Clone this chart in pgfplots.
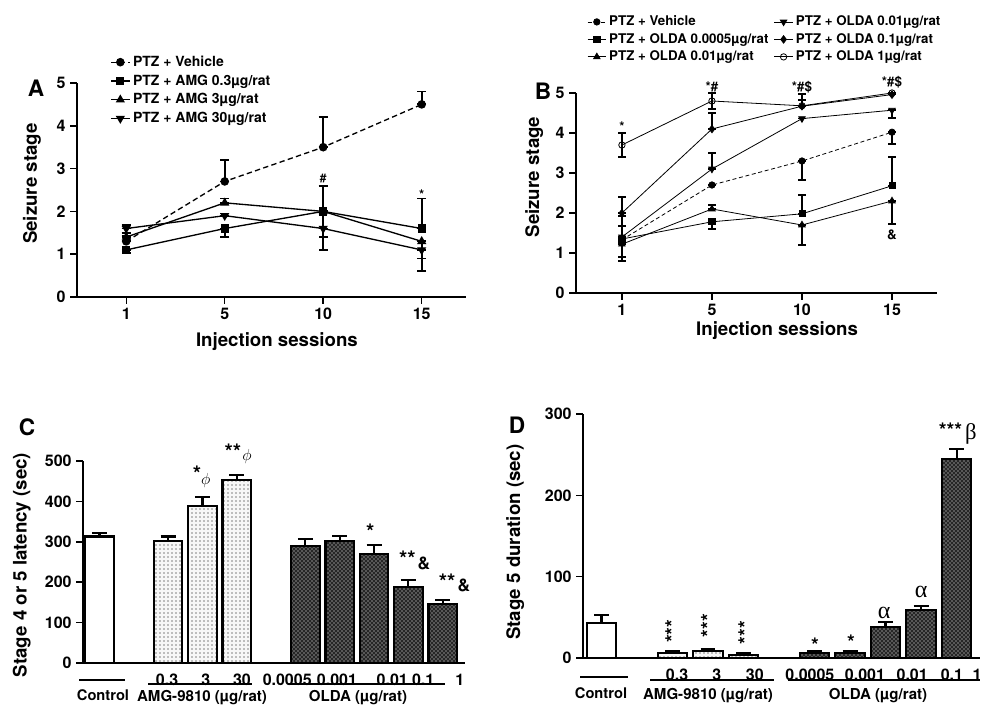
\documentclass[border=0pt]{standalone}
\usepackage{fontspec}
\setmainfont{TeX Gyre Heros}
\newfontfamily\grk{Liberation Serif}
\usepackage{pgfplots}
\pgfplotsset{compat=1.18}
\usetikzlibrary{patterns}

\newcommand{\fs}[1]{\fontsize{#1}{#1}\selectfont\bfseries}

\tikzset{stack/.style={font=\fs{15}, rotate=90, inner sep=0pt}}

\pgfplotsset{
  panel/.style={
    scale only axis, anchor=south west, clip=false,
    axis x line=bottom, axis y line=left,
    axis line style={-, line width=1.1pt, black},
    tick align=outside, tick style={line width=1.1pt, black},
    /pgf/number format/assume math mode=true,
    tick label style={font=\fs{12}},
    every axis y label/.style={rotate=90, anchor=center, font=\fs{14}},
    every axis x label/.style={anchor=center, font=\fs{14}},
  },
  errA/.style={error bars/y dir=both, error bars/y explicit,
    error bars/error bar style={line width=1.4pt, solid},
    error bars/error mark options={rotate=90, line width=1.4pt, mark size=3.4pt, solid}},
  errB/.style={error bars/y dir=both, error bars/y explicit,
    error bars/error bar style={line width=1.1pt, solid},
    error bars/error mark options={rotate=90, line width=1.1pt, mark size=2.9pt, solid}},
  barbase/.style={ybar, bar width=0.83, bar shift=0pt, draw=black, line width=1.6pt,
    error bars/y dir=plus, error bars/y explicit,
    error bars/error bar style={line width=1.6pt, solid},
    error bars/error mark options={rotate=90, line width=1.6pt, mark size=5.6pt}},
  amg/.style={fill=black!3, postaction={pattern=dots, pattern color=black}},
  olda/.style={fill=black!85, postaction={pattern=crosshatch dots, pattern color=white}},
}

\begin{document}
\begin{tikzpicture}
\path[use as bounding box] (0,0) rectangle (738pt,-528.75pt);
\begin{scope}[x=0.75pt,y=-0.75pt]
  \coordinate (Ao) at (77,297);
  \coordinate (Bo) at (576,293);
  \coordinate (Co) at (83,663);
  \coordinate (Do) at (583,658);
  \node[font=\fs{17}] at (36,88) {A};
  \node[font=\fs{17}] at (543,91) {B};
  \node[font=\fs{17}] at (27,427) {C};
  \node[font=\fs{17}] at (517,425) {D};
  % group rules and names, panel C
  \draw[line width=1.4pt] (79,680) -- (125,680);
  \draw[line width=1.4pt] (148,684) -- (252,684);
  \draw[line width=1.4pt] (288,684) -- (445,684);
  \node[font=\fs{11}, anchor=base] at (103,700) {Control};
  \node[font=\fs{11.3}, anchor=base] at (202,701) {AMG-9810 (µg/rat)};
  \node[font=\fs{11.3}, anchor=base] at (358,701) {OLDA (µg/rat)};
  % group rules and names, panel D
  \draw[line width=1.4pt] (580,677) -- (628,677);
  \draw[line width=1.4pt] (650,680) -- (774,680);
  \draw[line width=1.4pt] (788,680) -- (980,680);
  \node[font=\fs{11}, anchor=base] at (601,698) {Control};
  \node[font=\fs{11.3}, anchor=base] at (708,699) {AMG-9810 (µg/rat)};
  \node[font=\fs{11.3}, anchor=base] at (878,699) {OLDA (µg/rat)};
\end{scope}

% ---------------- A
\begin{axis}[panel, at={(Ao)}, width=291.75pt, height=160.5pt,
  xmin=-0.5, xmax=3.45, ymin=0, ymax=5,
  xtick={0,1,2,3}, xticklabels={1,5,10,15}, ytick={0,1,2,3,4,5},
  major tick length=5pt,
  xlabel={Injection sessions}, xlabel style={at={(axis description cs:0.514,-0.21)}},
  ylabel={Seizure stage}, ylabel style={at={(axis description cs:-0.116,0.53)}},
  legend style={at={(axis description cs:0.085,1.14)}, anchor=north west, draw=none, fill=none,
    font=\fs{10.5}, inner sep=0pt, row sep=0.8pt},
  legend cell align=left,
  legend image code/.code={\draw[mark repeat=2,mark phase=2,#1] plot coordinates {(0pt,0pt) (7pt,0pt) (14pt,0pt)};},
]
\addplot[black, line width=1pt, dash pattern=on 4pt off 2.5pt, mark=*, mark size=2.7pt, mark options={solid}, errA]
  coordinates {(0,1.3) += (0,0.12) -= (0,0) (1,2.7) += (0,0.5) -= (0,0) (2,3.5) += (0,0.7) -= (0,0) (3,4.5) += (0,0.3) -= (0,0)};
\addlegendentry{PTZ + Vehicle}
\addplot[black, line width=1pt, mark=square*, mark size=2.6pt, errA]
  coordinates {(0,1.1) += (0,0) -= (0,0.07) (1,1.6) += (0,0) -= (0,0.2) (2,2.0) += (0,0.6) -= (0,0) (3,1.6) += (0,0.7) -= (0,0)};
\addlegendentry{PTZ + AMG 0.3µg/rat}
\addplot[black, line width=1pt, mark=triangle*, mark size=3pt, errA]
  coordinates {(0,1.4) += (0,0.1) -= (0,0) (1,2.2) += (0,0.1) -= (0,0) (2,2.0) += (0,0) -= (0,0.6) (3,1.3) += (0,0) -= (0,0.4)};
\addlegendentry{PTZ + AMG 3µg/rat}
\addplot[black, line width=1pt, mark=triangle*, mark size=3pt, mark options={rotate=180}, errA]
  coordinates {(0,1.6) += (0,0.08) -= (0,0) (1,1.9) += (0,0.05) -= (0,0) (2,1.6) += (0,0) -= (0,0.5) (3,1.1) += (0,0) -= (0,0.5)};
\addlegendentry{PTZ + AMG 30µg/rat}
\node[font=\fs{9}] at (axis cs:2,2.78) {\#};
\node[font=\fs{10}] at (axis cs:3,2.38) {*};
\end{axis}

% ---------------- B
\begin{axis}[panel, at={(Bo)}, width=270.75pt, height=150pt,
  xmin=-0.51, xmax=3.5, ymin=0, ymax=5,
  xtick={0,1,2,3}, xticklabels={1,5,10,15}, ytick={0,1,2,3,4,5},
  major tick length=5pt,
  xlabel={Injection sessions}, xlabel style={at={(axis description cs:0.557,-0.19)}},
  ylabel={Seizure stage}, ylabel style={at={(axis description cs:-0.116,0.58)}},
  legend columns=2,
  legend style={at={(axis description cs:0.03,1.4)}, anchor=north west, draw=none, fill=none,
    font=\fs{10}, inner sep=0pt, row sep=0.2pt,
    /tikz/every even column/.append style={column sep=2pt}},
  legend cell align=left,
  legend image code/.code={\draw[mark repeat=2,mark phase=2,#1] plot coordinates {(0pt,0pt) (7pt,0pt) (14pt,0pt)};},
]
\addplot[black, line width=0.6pt, dash pattern=on 3pt off 2pt, mark=*, mark size=2.4pt, mark options={solid}, errB]
  coordinates {(0,1.33) += (0,0.35) -= (0,0) (1,2.7) += (0,0) -= (0,0) (2,3.3) += (0,0) -= (0,0.47) (3,4.02) += (0,0) -= (0,0.29)};
\addlegendentry{PTZ + Vehicle}
\addplot[black, line width=0.6pt, mark=triangle*, mark size=2.8pt, mark options={rotate=180}, errB]
  coordinates {(0,1.4) += (0,0.52) -= (0,0) (1,3.1) += (0,0.4) -= (0,0) (2,4.36) += (0,0) -= (0,0) (3,4.57) += (0,0) -= (0,0.19)};
\addlegendentry{PTZ + OLDA 0.01µg/rat}
\addplot[black, line width=0.6pt, mark=square*, mark size=2.3pt, errB]
  coordinates {(0,1.35) += (0,0) -= (0,0.45) (1,1.78) += (0,0) -= (0,0.18) (2,1.98) += (0,0.47) -= (0,0) (3,2.68) += (0,0.72) -= (0,0)};
\addlegendentry{PTZ + OLDA 0.0005µg/rat}
\addplot[black, line width=0.6pt, mark=diamond*, mark size=2.8pt, errB]
  coordinates {(0,2.0) += (0,0.4) -= (0,0) (1,4.1) += (0,0.4) -= (0,0) (2,4.67) += (0,0.15) -= (0,0) (3,4.96) += (0,0) -= (0,0)};
\addlegendentry{PTZ + OLDA 0.1µg/rat}
\addplot[black, line width=0.6pt, mark=triangle*, mark size=2.8pt, errB]
  coordinates {(0,1.22) += (0,0) -= (0,0.42) (1,2.1) += (0,0.1) -= (0,0) (2,1.7) += (0,0) -= (0,0.5) (3,2.3) += (0,0) -= (0,0.58)};
\addlegendentry{PTZ + OLDA 0.01µg/rat}
\addplot[black, line width=0.6pt, mark=o, mark size=2.4pt, mark options={fill=white}, errB]
  coordinates {(0,3.7) += (0,0.3) -= (0,0.3) (1,4.8) += (0,0.2) -= (0,0.2) (2,4.68) += (0,0.3) -= (0,0) (3,5.0) += (0,0) -= (0,0)};
\addlegendentry{PTZ + OLDA 1µg/rat}
\node[font=\fs{10}] at (axis cs:0,4.15) {*};
\node[font=\fs{10}] at (axis cs:1,5.15) {*\#};
\node[font=\fs{10}] at (axis cs:2,5.15) {*\#\$};
\node[font=\fs{10}] at (axis cs:3,5.28) {*\#\$};
\node[font=\fs{10}] at (axis cs:3,1.45) {\&};
\end{axis}

% ---------------- C
\begin{axis}[panel, at={(Co)}, width=286.5pt, height=151.5pt,
  xmin=-0.48, xmax=10.65, ymin=0, ymax=500, ytick={0,100,200,300,400,500},
  major tick length=5pt,
  xtick={1.97,3.1,4.15,5.47,6.92,8.53,9.43,10.5},
  xticklabels={0.3,3,30,0.0005,0.001,0.01,0.1,1},
  xtick style={draw=none},
  ylabel={Stage 4 or 5 latency (sec)}, ylabel style={at={(axis description cs:-0.16,0.485)}},
]
\addplot[barbase, fill=white] coordinates {(0,313) +- (0,9)};
\addplot[barbase, amg] coordinates {(2,302) +- (0,11) (3,389) +- (0,21) (4,452) +- (0,13)};
\addplot[barbase, olda] coordinates {(6,290) +- (0,17) (7,302) +- (0,13) (8,269) +- (0,23) (9,188) +- (0,17) (10,147) +- (0,10)};
\node[font=\fs{16}] at (axis cs:2.84,468) {*};
\node[font=\fs{13}] at (axis cs:3.1,452) {\(\phi\)};
\node[font=\fs{16}] at (axis cs:3.89,522) {**};
\node[font=\fs{13}] at (axis cs:4.3,510) {\(\phi\)};
\node[font=\fs{16}] at (axis cs:7.89,326) {*};
\node[font=\fs{16}] at (axis cs:8.97,257) {**};
\node[font=\fs{13}] at (axis cs:9.45,246) {\&};
\node[font=\fs{16}] at (axis cs:10.13,202) {**};
\node[font=\fs{13}] at (axis cs:10.62,192) {\&};
\end{axis}

% ---------------- D
\begin{axis}[panel, at={(Do)}, width=297.75pt, height=183pt,
  xmin=-0.52, xmax=10.66, ymin=0, ymax=300, ytick={0,100,200,300},
  major tick length=5pt,
  xtick={2.13,3.25,4.32,5.87,7.42,8.75,9.87,10.58},
  xticklabels={0.3,3,30,0.0005,0.001,0.01,0.1,1},
  xtick style={draw=none},
  ylabel={Stage 5 duration (sec)}, ylabel style={at={(axis description cs:-0.171,0.475)}},
]
\addplot[barbase, fill=white] coordinates {(0,43) +- (0,10)};
\addplot[barbase, amg] coordinates {(2,6) +- (0,2) (3,9) +- (0,2) (4,4) +- (0,2)};
\addplot[barbase, olda] coordinates {(6,6) +- (0,3) (7,6) +- (0,3) (8,38) +- (0,6) (9,58.5) +- (0,5.5) (10,245) +- (0,12)};
\node[stack] at (axis cs:2.0,33) {***};
\node[stack] at (axis cs:3.01,40) {***};
\node[stack] at (axis cs:4.06,31) {***};
\node[font=\fs{15}] at (axis cs:6.01,16) {*};
\node[font=\fs{15}] at (axis cs:7.03,19) {*};
\node[font=\grk\fontsize{18}{18}\selectfont] at (axis cs:7.96,56) {α};
\node[font=\grk\fontsize{18}{18}\selectfont] at (axis cs:9.0,81) {α};
\node[font=\fs{15}] at (axis cs:9.83,280) {***};
\node[font=\grk\fontsize{17}{17}\selectfont] at (axis cs:10.4,276) {β};
\end{axis}
\end{tikzpicture}
\end{document}
